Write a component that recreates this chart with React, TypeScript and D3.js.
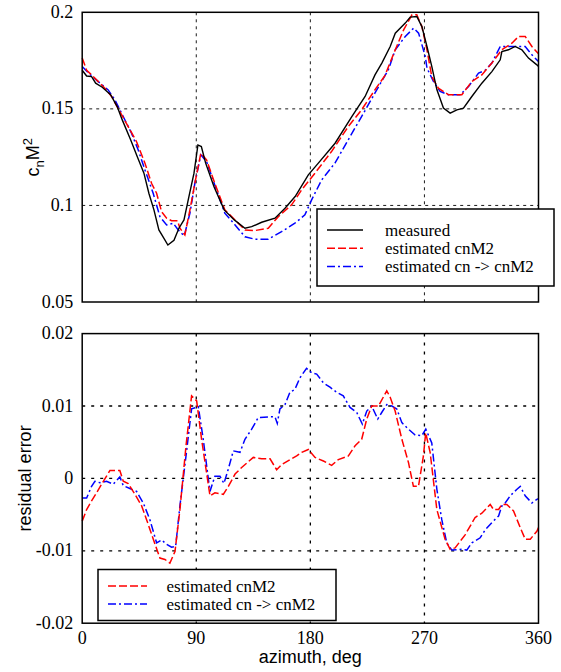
import React from "react";
import * as d3 from "d3";

type Pt = [number, number];

const xTicks = [0, 90, 180, 270, 360];
const topTicks = [0.05, 0.1, 0.15, 0.2];
const topTickLabels = ["0.05", "0.1", "0.15", "0.2"];
const botTicks = [-0.02, -0.01, 0, 0.01, 0.02];
const botTickLabels = ["-0.02", "-0.01", "0", "0.01", "0.02"];

const topLegend = ["measured", "estimated cnM2", "estimated cn -> cnM2"];
const botLegend = ["estimated cnM2", "estimated cn -> cnM2"];

const measured: Pt[] = [
  [0, 0.170], [3.5, 0.167], [7.4, 0.1667], [10.6, 0.1633], [15.8, 0.1612], [22.4, 0.1573],
  [27.6, 0.1512], [31.6, 0.1443], [38.2, 0.134], [43.4, 0.1253], [48.7, 0.1167], [52.6, 0.1063],
  [56.6, 0.0977], [60.5, 0.0873], [64.5, 0.083], [67.6, 0.0795], [72.4, 0.082], [76.3, 0.0882],
  [80.3, 0.0925], [84.2, 0.1046], [88.2, 0.1167], [91.3, 0.1313], [94, 0.1305], [97.4, 0.1219],
  [104, 0.1097], [112, 0.0977], [120, 0.0925], [128.4, 0.0882], [133.7, 0.089], [141.6, 0.0913],
  [152.1, 0.0934], [160, 0.0985], [168, 0.1046], [178.4, 0.1158], [186.3, 0.1219], [199.5, 0.1322],
  [212.7, 0.146], [223.2, 0.1564], [231, 0.1676], [236.4, 0.1737], [243, 0.1823], [247, 0.1892],
  [254.9, 0.1944], [258.8, 0.1975], [264, 0.1978], [268, 0.1926], [272, 0.1823], [275.8, 0.172],
  [279.8, 0.16], [285, 0.1504], [290.3, 0.1478], [295.6, 0.1495], [300.8, 0.1504], [307.4, 0.1564],
  [315.3, 0.1633], [323.2, 0.1693], [329.8, 0.1754], [331.1, 0.1797], [336.3, 0.1806], [341.6, 0.1823],
  [346.9, 0.1806], [352.1, 0.1763], [358.7, 0.1728], [360, 0.172],
];

const estCnM2: Pt[] = [
  [0, 0.1763], [3.5, 0.170], [7.4, 0.1676], [12.7, 0.1641], [17.9, 0.1607], [23.2, 0.1564],
  [29.7, 0.1486], [36.3, 0.1408], [42.9, 0.133], [49.5, 0.1219], [54.7, 0.1115], [58.7, 0.1063],
  [62.6, 0.0968], [66.6, 0.0934], [70.5, 0.0921], [75.2, 0.0921], [77.1, 0.0882], [81, 0.0847],
  [85, 0.0977], [88.9, 0.1115], [93.6, 0.127], [98.1, 0.1236], [104.6, 0.1115], [112.5, 0.0977],
  [120.6, 0.0925], [128.4, 0.0873], [136.3, 0.087], [146.8, 0.0882], [154.7, 0.0942], [165.2, 0.1003],
  [173.1, 0.108], [183.6, 0.1167], [196.7, 0.1279], [209.9, 0.1408], [220.4, 0.1495], [230.9, 0.1598],
  [238.8, 0.1672], [247, 0.1806], [253.6, 0.1909], [260.2, 0.1987], [264, 0.1987], [268, 0.1926],
  [272, 0.1806], [275.8, 0.1667], [281, 0.1607], [289, 0.1573], [299.5, 0.1573], [307.4, 0.1641],
  [315.3, 0.1676], [323.2, 0.1737], [331.1, 0.1806], [339, 0.184], [344.3, 0.1875], [349.5, 0.1875],
  [354.8, 0.1823], [360, 0.1785],
];

const estCn: Pt[] = [
  [0, 0.1719], [5, 0.1685], [12.7, 0.1641], [20.5, 0.1598], [25.8, 0.1547], [31, 0.1478],
  [38.9, 0.1374], [44.2, 0.1287], [49.5, 0.1184], [56, 0.1063], [61.3, 0.0942], [66.6, 0.0899],
  [71.8, 0.0908], [75.8, 0.0873], [80.5, 0.0842], [85, 0.096], [88.9, 0.1115], [93.6, 0.1262],
  [98.1, 0.1227], [104.6, 0.1106], [112.5, 0.096], [120.6, 0.0899], [128.4, 0.0838], [136.3, 0.0825],
  [146.8, 0.0825], [157.3, 0.0864], [167.8, 0.0908], [175.7, 0.0951], [181, 0.1029], [188.9, 0.1132],
  [199.4, 0.1219], [209.9, 0.134], [220.4, 0.146], [230.9, 0.1581], [236.1, 0.1641], [241.4, 0.170],
  [247, 0.1806], [254.9, 0.1875], [261.5, 0.1918], [265.4, 0.1892], [270.7, 0.1771], [272, 0.1711],
  [277.2, 0.1641], [282.4, 0.159], [289, 0.1573], [298.2, 0.1573], [304.8, 0.1616], [312.7, 0.1685],
  [318, 0.170], [323.2, 0.1737], [329.8, 0.1823], [336.3, 0.1823], [344.3, 0.1823], [349.5, 0.1823],
  [354.8, 0.178], [360, 0.1745],
];

const residCnM2: Pt[] = [
  [0, -0.0059], [3.5, -0.0043], [7.4, -0.0031], [11.3, -0.002], [15.3, -0.0008], [19.2, 0.0003],
  [21.9, 0.0011], [29.7, 0.0011], [32.4, -0.0004], [36.3, -0.0007], [41.6, -0.0022], [46.9, -0.0038],
  [50.8, -0.0057], [56.1, -0.0084], [61.3, -0.011], [65.3, -0.0112], [69.2, -0.0117], [73.2, -0.0101],
  [77.1, -0.0043], [81.9, 0.0045], [86.3, 0.0114], [90.3, 0.0107], [94.2, 0.0054], [100.8, -0.0024],
  [104.7, -0.002], [111.3, -0.0022], [115.3, -0.0011], [120.6, 0.0006], [125.8, 0.0015], [135, 0.0029],
  [141.6, 0.0027], [148.2, 0.0027], [153.4, 0.0012], [157.4, 0.0019], [164, 0.0026], [169.2, 0.0031],
  [173.2, 0.0036], [178.4, 0.004], [183.7, 0.0029], [190.3, 0.0024], [196.8, 0.0018], [202.1, 0.0026],
  [210, 0.0031], [215.3, 0.0045], [220.5, 0.0054], [224.5, 0.0082], [228.4, 0.01], [233.7, 0.01],
  [240.3, 0.0121], [243, 0.0112], [246.9, 0.0093], [252.2, 0.0054], [257.4, 0.0022], [261.3, -0.0011],
  [265.3, -0.0011], [269.2, 0.0031], [271, 0.0063], [274.5, 0.0036], [279.8, -0.0043], [286.3, -0.0084],
  [290.3, -0.0098], [294.2, -0.0096], [302.1, -0.0078], [310, -0.0054], [315.3, -0.0048], [321.9, -0.0036],
  [324.5, -0.0043], [328.5, -0.0043], [331.1, -0.0036], [335, -0.0036], [340.3, -0.0045], [345.6, -0.0068],
  [349.5, -0.0084], [353.5, -0.0084], [358.7, -0.0073], [360, -0.0068],
];

const residCn: Pt[] = [
  [0, -0.0027], [3.5, -0.0027], [7.4, -0.0011], [10, -0.0004], [14, -0.0006], [19.2, -0.0004],
  [24.5, -0.0008], [29.7, 0.0002], [32.4, -0.001], [37.6, -0.0014], [42.9, -0.0018], [48.2, -0.0034],
  [53.4, -0.0057], [58.7, -0.0089], [62.6, -0.0085], [66.6, -0.0091], [70.5, -0.0095], [73.7, -0.0094],
  [77.1, -0.0038], [81.9, 0.0031], [86.3, 0.0096], [91.6, 0.0099], [95.5, 0.0054], [100.8, -0.0018],
  [104.7, 0.0003], [108.7, 0.0003], [111.8, -0.0007], [115.3, 0.0013], [119.2, 0.0038], [124.5, 0.0036],
  [128.4, 0.0054], [133.7, 0.0068], [138.9, 0.0084], [146.8, 0.0085], [152.1, 0.0085], [153.9, 0.0076],
  [156, 0.0096], [160, 0.0102], [163.9, 0.0119], [167.8, 0.0123], [171.8, 0.0139], [177, 0.0152],
  [181, 0.0146], [185, 0.0144], [190.3, 0.0132], [195.5, 0.0126], [200.8, 0.0119], [206, 0.0114],
  [211.3, 0.0098], [216.6, 0.0091], [221, 0.0075], [224.5, 0.0093], [228.4, 0.01], [233.2, 0.0082],
  [236.3, 0.0091], [240.3, 0.0102], [244.3, 0.01], [248.2, 0.0096], [252.2, 0.0077], [257.4, 0.0068],
  [262.7, 0.006], [267.9, 0.0059], [271.1, 0.0068], [275.8, 0.0049], [279.8, -0.0015], [283.7, -0.0057],
  [287.6, -0.0089], [291.6, -0.0099], [299.5, -0.0098], [303.4, -0.0099], [307.4, -0.0089], [314, -0.0082],
  [318, -0.0071], [323.2, -0.0061], [328.5, -0.0052], [331.1, -0.0038], [333.7, -0.0034], [337.7, -0.0024],
  [343, -0.0015], [345.6, -0.0011], [349.5, -0.0024], [354.8, -0.0034], [358.7, -0.0029], [360, -0.0028],
];

const W = 561;
const H = 672;
const SERIF = "Liberation Serif, DejaVu Serif, serif";
const SANS = "Liberation Sans, Arial, Helvetica, sans-serif";
const RED = "#ff0000";
const BLUE = "#0000ff";
const RED_DASH = "8,3";
const BLUE_DASH = "8,3,2,3";

const serifStyle = (size: number) => ({ fontFamily: SERIF, fontSize: size + "px" });
const sansStyle = (size: number) => ({ fontFamily: SANS, fontSize: size + "px" });

export default function App() {
  const x = d3.scaleLinear().domain([0, 360]).range([82.2, 538.5]);
  const yTop = d3.scaleLinear().domain([0.05, 0.2]).range([302, 12.3]);
  const yBot = d3.scaleLinear().domain([-0.02, 0.02]).range([623.2, 333.6]);

  const lineTop = d3.line<Pt>().x((d) => x(d[0])).y((d) => yTop(d[1]));
  const lineBot = d3.line<Pt>().x((d) => x(d[0])).y((d) => yBot(d[1]));

  const x0 = x(0), x1 = x(360);

  const grid = (y: d3.ScaleLinear<number, number>, yt: number[], dash: string, sw: number) => (
    <g stroke="#000" strokeWidth={sw} strokeDasharray={dash} fill="none">
      {xTicks.slice(1, -1).map((t) => (
        <line key={"v" + t} x1={x(t)} x2={x(t)} y1={y.range()[1]} y2={y.range()[0]} />
      ))}
      {yt.slice(1, -1).map((t) => (
        <line key={"h" + t} x1={x0} x2={x1} y1={y(t)} y2={y(t)} />
      ))}
    </g>
  );

  return (
    <svg width={W} height={H} style={{ position: "absolute", left: 0, top: 0, background: "#fff" }}>
      <rect x={0} y={0} width={W} height={H} fill="#fff" />
      {/* top panel */}
      {grid(yTop, topTicks, "3,4", 0.9)}
      <path d={lineTop(estCn) || ""} fill="none" stroke={BLUE} strokeWidth={1.5} strokeDasharray={BLUE_DASH} />
      <path d={lineTop(estCnM2) || ""} fill="none" stroke={RED} strokeWidth={1.5} strokeDasharray={RED_DASH} />
      <path d={lineTop(measured) || ""} fill="none" stroke="#000" strokeWidth={1.4} />
      <rect x={x0} y={yTop(0.2)} width={x1 - x0} height={yTop(0.05) - yTop(0.2)} fill="none" stroke="#000" strokeWidth={1.5} />
      {topTicks.map((t, i) => (
        <text key={t} x={73.3} y={yTop(t) + 5.5} textAnchor="end" style={serifStyle(18)}>
          {topTickLabels[i]}
        </text>
      ))}
      <text transform={`translate(38.5, ${(yTop(0.05) + yTop(0.2)) / 2}) rotate(-90)`} textAnchor="middle" style={sansStyle(18)}>
        <tspan>c</tspan>
        <tspan dy={5} style={{ fontSize: "13px" }}>n</tspan>
        <tspan dy={-5}>M</tspan>
        <tspan dy={-7} style={{ fontSize: "13px" }}>2</tspan>
      </text>
      {/* top legend */}
      <g>
        <rect x={317} y={209} width={237} height={77} fill="#fff" stroke="#000" strokeWidth={1.5} />
        {topLegend.map((lab, i) => {
          const yy = 230 + i * 18.3;
          const stroke = i === 0 ? "#000" : i === 1 ? RED : BLUE;
          const dash = i === 0 ? undefined : i === 1 ? RED_DASH : BLUE_DASH;
          return (
            <g key={lab}>
              <line x1={327} x2={363} y1={yy} y2={yy} stroke={stroke} strokeWidth={1.5} strokeDasharray={dash} />
              <text x={385} y={yy + 5.5} style={serifStyle(17)}>{lab}</text>
            </g>
          );
        })}
      </g>

      {/* bottom panel */}
      {grid(yBot, botTicks, "3,6", 1.3)}
      <path d={lineBot(residCn) || ""} fill="none" stroke={BLUE} strokeWidth={1.5} strokeDasharray={BLUE_DASH} />
      <path d={lineBot(residCnM2) || ""} fill="none" stroke={RED} strokeWidth={1.5} strokeDasharray={RED_DASH} />
      <rect x={x0} y={yBot(0.02)} width={x1 - x0} height={yBot(-0.02) - yBot(0.02)} fill="none" stroke="#000" strokeWidth={1.5} />
      {botTicks.map((t, i) => (
        <text key={t} x={73.3} y={yBot(t) + 5.5} textAnchor="end" style={serifStyle(18)}>
          {botTickLabels[i]}
        </text>
      ))}
      <text transform={`translate(31, ${(yBot(-0.02) + yBot(0.02)) / 2}) rotate(-90)`} textAnchor="middle" style={sansStyle(18)}>
        residual error
      </text>
      {/* bottom legend */}
      <g>
        <rect x={98} y={569.5} width={238} height={51} fill="#fff" stroke="#000" strokeWidth={1.5} />
        {botLegend.map((lab, i) => {
          const yy = 586 + i * 18;
          return (
            <g key={lab}>
              <line x1={108} x2={147} y1={yy} y2={yy} stroke={i === 0 ? RED : BLUE} strokeWidth={1.5} strokeDasharray={i === 0 ? RED_DASH : BLUE_DASH} />
              <text x={166.5} y={yy + 5.5} style={serifStyle(17)}>{lab}</text>
            </g>
          );
        })}
      </g>
      {xTicks.map((t) => (
        <text key={t} x={x(t)} y={644.3} textAnchor="middle" style={serifStyle(18)}>
          {t}
        </text>
      ))}
      <text x={(x0 + x1) / 2} y={663} textAnchor="middle" style={sansStyle(18)}>
        azimuth, deg
      </text>
    </svg>
  );
}
